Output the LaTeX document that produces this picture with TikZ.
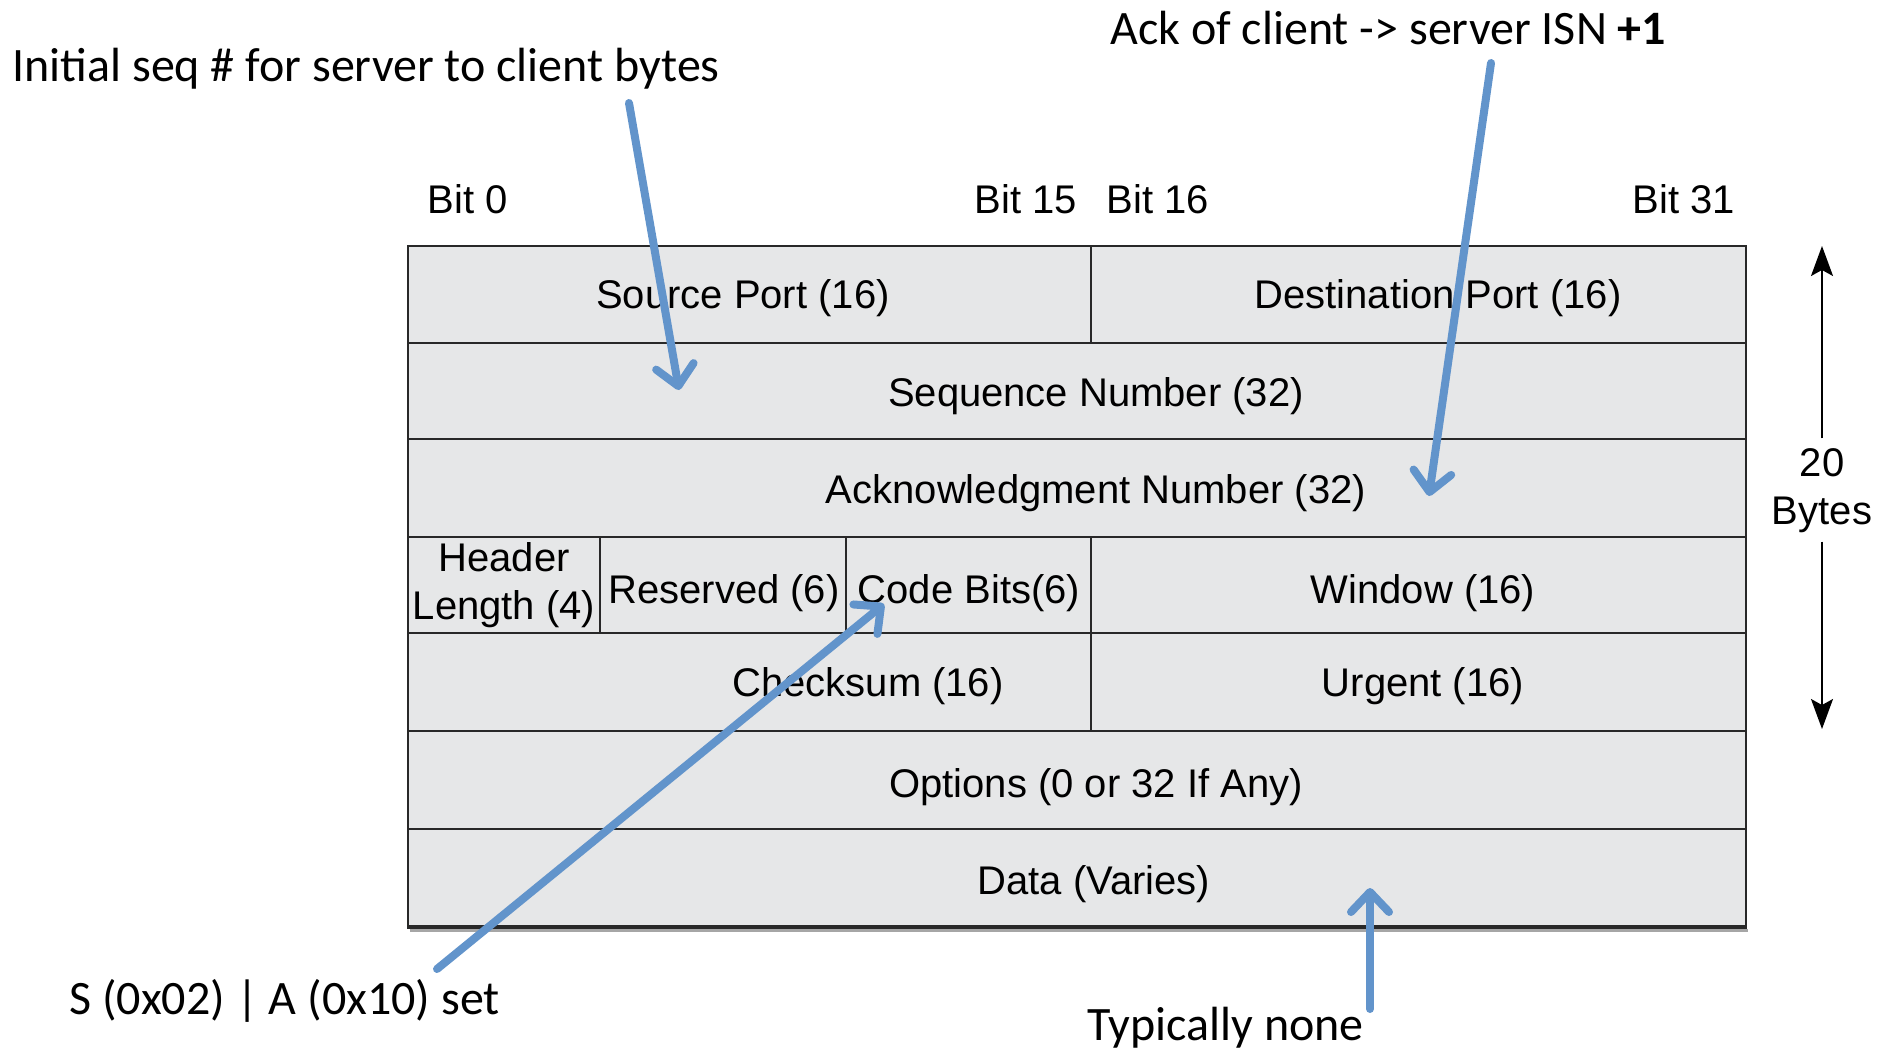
\documentclass[tikz,border=0pt]{standalone}
\usepackage{fontspec}
\setmainfont{Liberation Sans}
\newfontfamily\calib{Carlito}
\usetikzlibrary{arrows.meta}
\definecolor{cellgray}{RGB}{230,231,232}
\definecolor{annblue}{RGB}{98,148,203}
\definecolor{edgegray}{RGB}{40,40,40}
\begin{document}
\begin{tikzpicture}[x=0.5pt,y=-0.5pt,
  field/.style={font=\fontsize{20}{22}\selectfont, inner sep=0pt, align=center},
  ann/.style={font=\calib\fontsize{24}{28}\selectfont, inner sep=0pt, anchor=west},
  grid/.style={draw=edgegray, line width=1pt},
  bluearrow/.style={draw=annblue, line width=4pt, line cap=round,
    -{Straight Barb[length=10pt, width=19pt, round]}},
  sizearrow/.style={draw=black, line width=0.8pt, -{Stealth[length=15pt, width=11pt, inset=3pt]}}]
\useasboundingbox (0,0) rectangle (1892,1050);
% table
\fill[black!35] (410,929) rectangle (1748,932);
\fill[cellgray] (408,246) rectangle (1746,927);
\foreach \yy in {343,439,537,633,731,829} \draw[grid] (408,\yy) -- (1746,\yy);
\draw[grid] (1091,246) -- (1091,343);
\draw[grid] (600,537) -- (600,633);
\draw[grid] (846,537) -- (846,633);
\draw[grid] (1091,537) -- (1091,731);
\draw[grid, line width=1.3pt] (408,246) rectangle (1746,927);
\draw[edgegray, line width=2.2pt] (407,927) -- (1747,927);
% bit labels
\node[field] (b0) at (468,199) {Bit 0};
\node[field] (b15) at (1026,199) {Bit 15};
\node[field] (b16) at (1158,199) {Bit 16};
\node[field] (b31) at (1684,199) {Bit 31};
% fields
\node[field] (src) at (743,298) {Source Port (16)};
\node[field] (dst) at (1438,298) {Destination Port (16)};
\node[field] (seq) at (1096,396) {Sequence Number (32)};
\node[field] (ack) at (1096,493) {Acknowledgment Number (32)};
\node[field, font=\fontsize{20}{24}\selectfont] (hl) at (504,585) {Header\\Length (4)};
\node[field] (res) at (724,593) {Reserved (6)};
\node[field] (code) at (969,593) {Code Bits(6)};
\node[field] (win) at (1423,593) {Window (16)};
\node[field] (chk) at (868,686) {Checksum (16)};
\node[field] (urg) at (1423,686) {Urgent (16)};
\node[field] (opt) at (1096,787) {Options (0 or 32 If Any)};
\node[field] (data) at (1094,884) {Data (Varies)};
% size indicator
\node[field, font=\fontsize{20}{24}\selectfont] (bytes) at (1822,491) {20\\Bytes};
\coordinate (sztop) at (1822,246);
\coordinate (szbot) at (1822,729);
\draw[sizearrow] (bytes.north) ++(0,-10) -- (sztop);
\draw[sizearrow] (bytes.south) ++(0,8) -- (szbot);
% annotations
\node[ann] (a1) at (12,69) {Initial seq \# for server to client bytes};
\node[ann] (a2) at (1110,28) {Ack of client -> server ISN \textbf{+1}};
\node[ann] (a3) at (69,1001) {S (0x02) | A (0x10) set};
\node[ann] (a4) at (1087,1028) {Typically none};
\coordinate (s1) at (629,103);
\coordinate (t1) at (679,390);
\coordinate (s2) at (1491,63);
\coordinate (t2) at (1429,496);
\coordinate (s3) at (437,969);
\coordinate (t3) at (884,604);
\coordinate (s4) at (1370,1009);
\coordinate (t4) at (1370,888);
\draw[bluearrow] (s1) -- (t1);
\draw[bluearrow] (s2) -- (t2);
\draw[bluearrow] (s3) -- (t3);
\draw[bluearrow] (s4) -- (t4);
\end{tikzpicture}
\end{document}
